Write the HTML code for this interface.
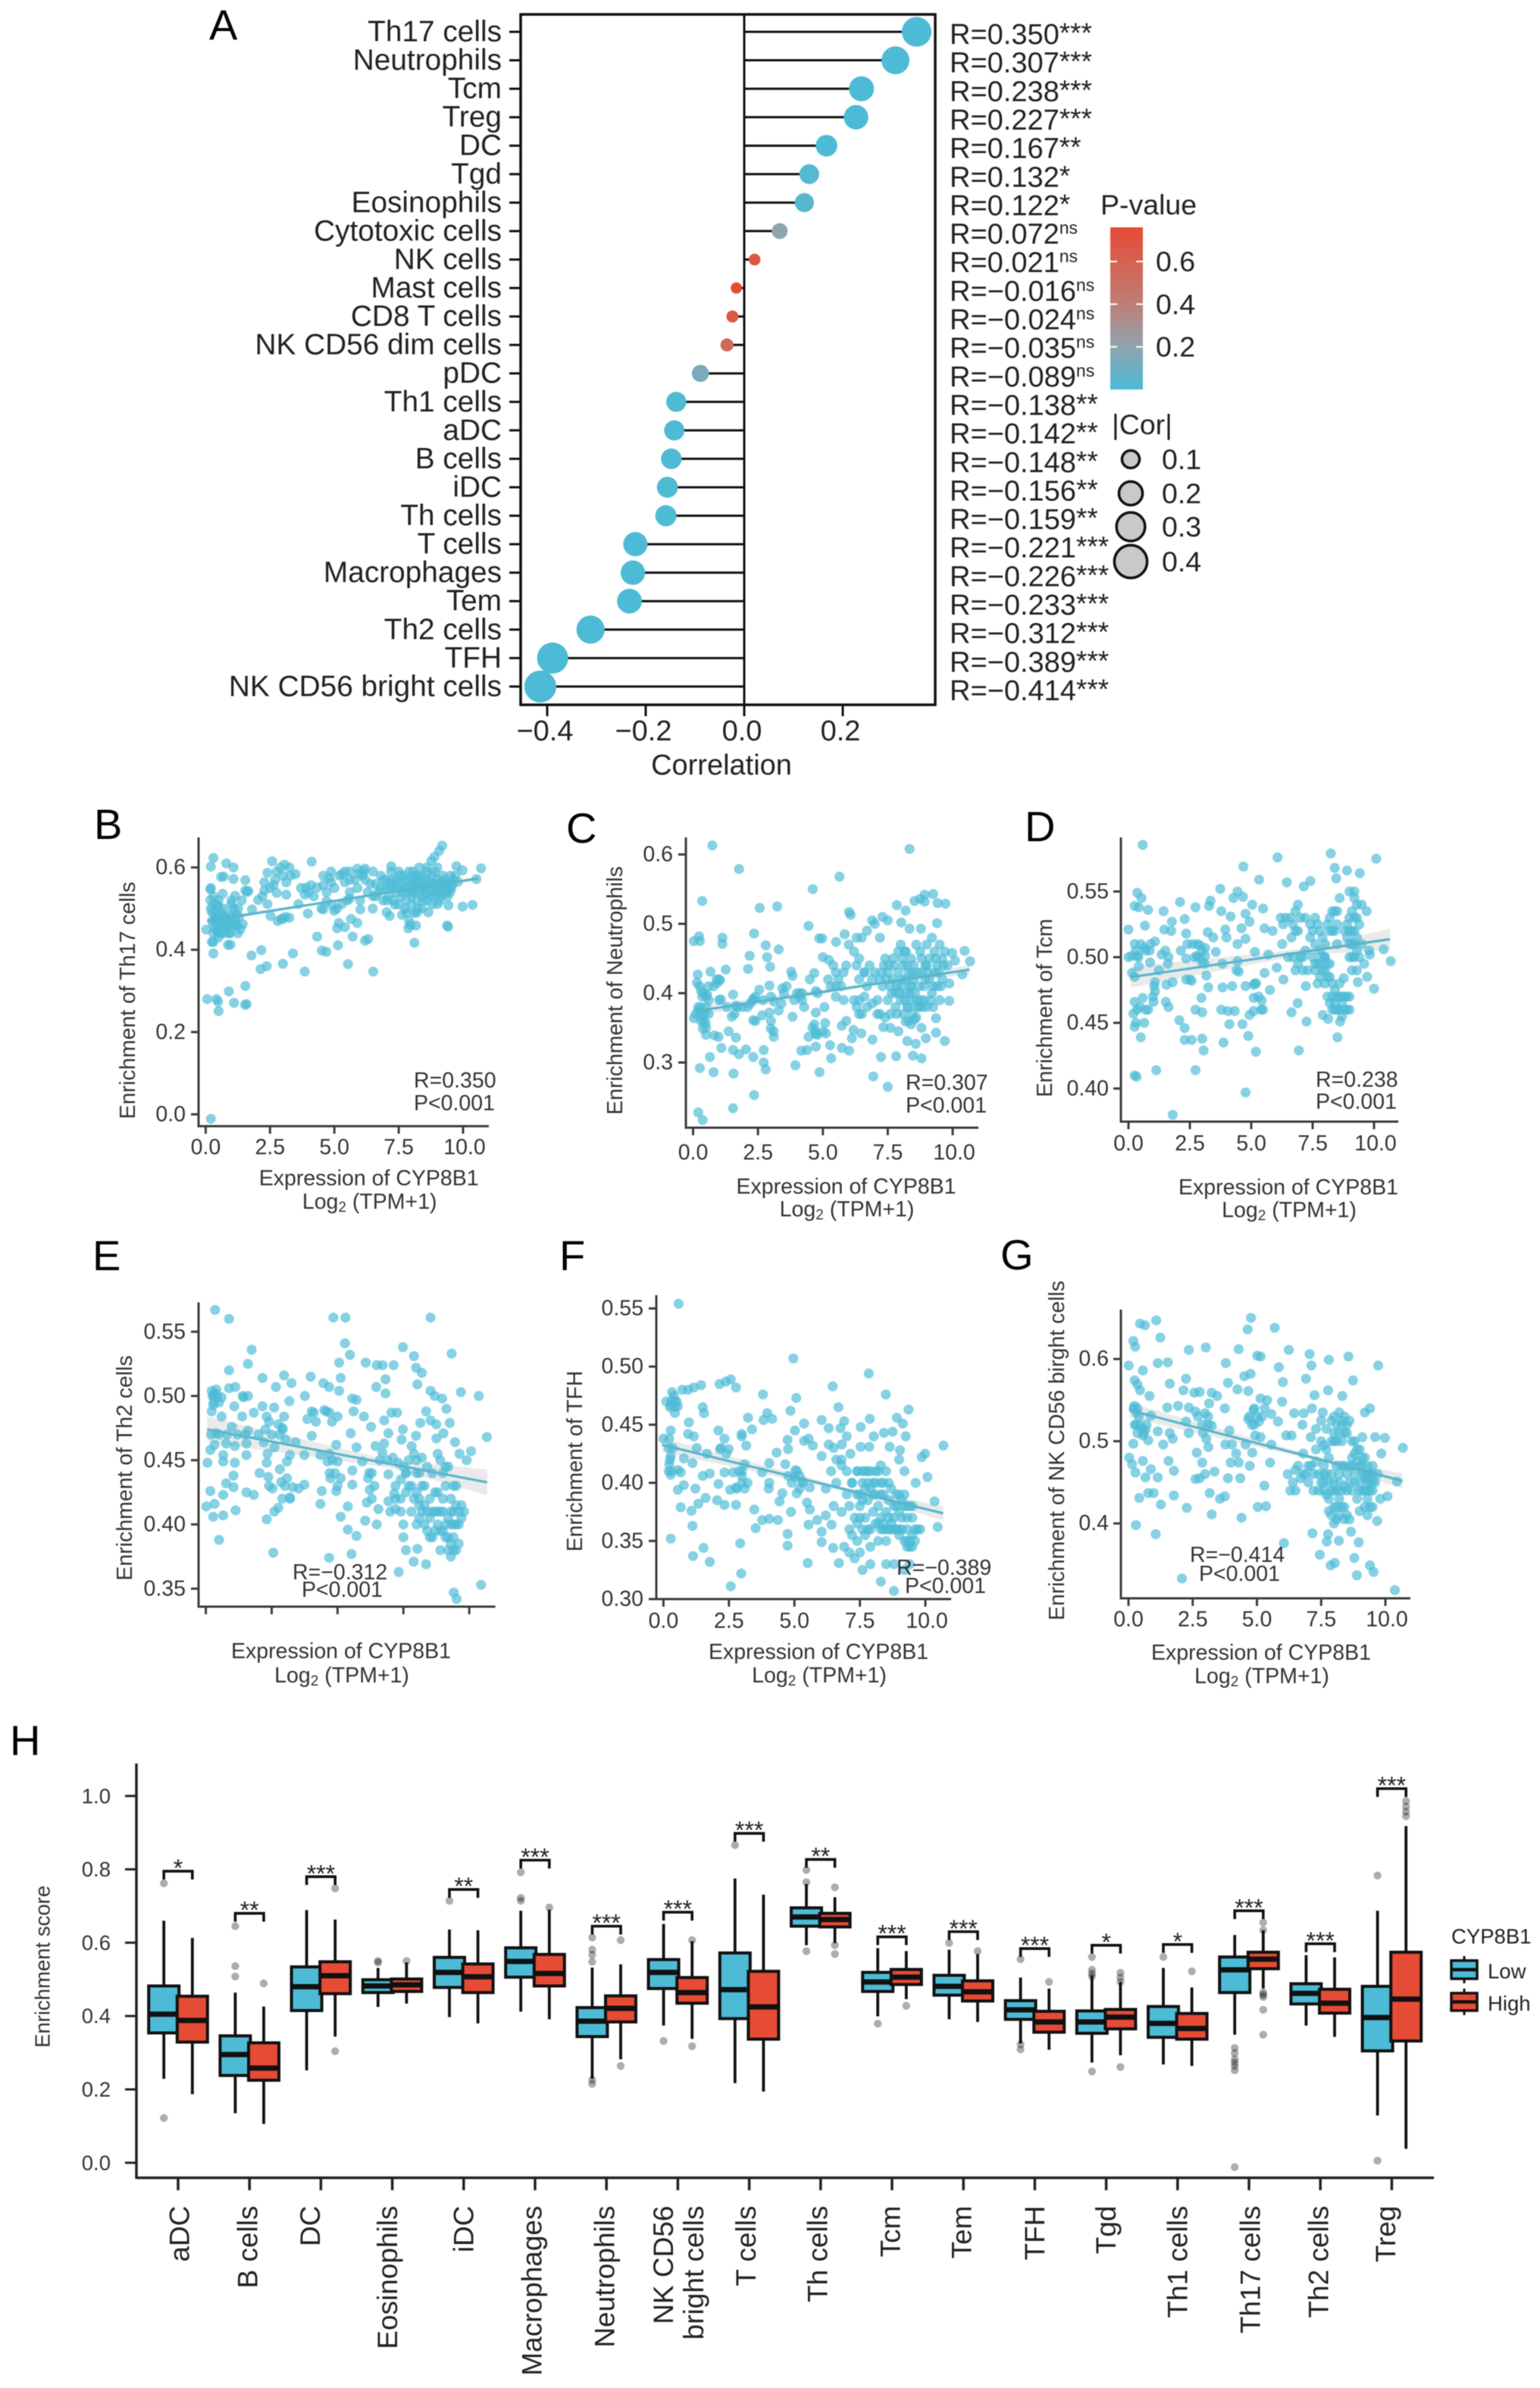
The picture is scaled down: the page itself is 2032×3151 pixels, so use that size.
<!DOCTYPE html>
<html lang="en">
<head>
<meta charset="utf-8">
<title>CYP8B1 immune infiltration correlation figure</title>
<style>
html,body{margin:0;padding:0;background:#fff;}
svg{display:block;font-family:"Liberation Sans",Arial,sans-serif;filter:blur(0.6px);}
</style>
</head>
<body>
<svg id="figure" xmlns="http://www.w3.org/2000/svg" width="2032" height="3151" viewBox="0 0 2032 3151">
<defs>
<linearGradient id="pgrad" x1="0" y1="1" x2="0" y2="0">
<stop offset="0" stop-color="#4DBBD5"/>
<stop offset="0.263" stop-color="#8FA3AE"/>
<stop offset="0.526" stop-color="#BD7F78"/>
<stop offset="1" stop-color="#E64B35"/>
</linearGradient>
</defs>
<rect x="0" y="0" width="2032" height="3151" fill="#fff"/>
<g id="panelA"></g>
<g id="panelB"></g>
<g id="panelC"></g>
<g id="panelD"></g>
<g id="panelE"></g>
<g id="panelF"></g>
<g id="panelG"></g>
<g id="panelH"></g>
</svg>
<script>
/* ---------- Panel A data ---------- */
const lolliCells=["Th17 cells","Neutrophils","Tcm","Treg","DC","Tgd","Eosinophils","Cytotoxic cells","NK cells","Mast cells","CD8 T cells","NK CD56 dim cells","pDC","Th1 cells","aDC","B cells","iDC","Th cells","T cells","Macrophages","Tem","Th2 cells","TFH","NK CD56 bright cells"];
const lolliCor=[0.350,0.307,0.238,0.227,0.167,0.132,0.122,0.072,0.021,-0.016,-0.024,-0.035,-0.089,-0.138,-0.142,-0.148,-0.156,-0.159,-0.221,-0.226,-0.233,-0.312,-0.389,-0.414];
const lolliP=[0,0,0,0,0.003,0.02,0.03,0.2,0.7,0.76,0.68,0.55,0.14,0.008,0.007,0.005,0.003,0.003,0,0,0,0,0,0];
const lolliSig=["***","***","***","***","**","*","*","ns","ns","ns","ns","ns","ns","**","**","**","**","**","***","***","***","***","***","***"];
const lolliXTicks=[-0.4,-0.2,0,0.2];
const pLegendTicks=[0.6,0.4,0.2];
const corLegendTicks=[0.1,0.2,0.3,0.4];

/* ---------- Scatter data, [expression, enrichment] ---------- */
const pointsB=[[.3,.623],[.2,.602],[.8,.61],[1.08,.6],[.6,.577],[.7,.578],[1.08,.572],[1.54,.569],[.18,.547],[.66,.536],[1.14,.531],[1.54,.544],[1.66,.543],[.18,.521],[.3,.511],[.48,.505],[.6,.491],[.24,.491],[.42,.478],[.66,.482],[.96,.485],[1.26,.501],[1.2,.485],[.96,.465],[.6,.452],[.48,.442],[.84,.452],[1.14,.459],[1.44,.462],[.02,.449],[.3,.419],[.24,.419],[.87,.412],[.96,.412],[.3,.391],[1.78,.386],[2.16,.399],[2.13,.353],[2.37,.36],[3,.366],[3.39,.391],[3.85,.347],[1.54,.312],[.9,.299],[.06,.28],[.42,.28],[.48,.274],[.5,.251],[1.1,.271],[1.53,.266],[1.59,.268],[.2,-.011],[2.58,.615],[3.06,.607],[3.25,.6],[4.12,.614],[2.4,.587],[2.76,.59],[3.49,.584],[2.28,.564],[2.64,.557],[3.13,.564],[2.28,.544],[2.76,.538],[3.13,.534],[2.04,.521],[1.8,.498],[2.4,.511],[2.52,.482],[2.94,.475],[3.25,.478],[3.6,.511],[3.9,.551],[4.09,.557],[4.33,.551],[3.85,.534],[3.97,.488],[4.57,.58],[4.87,.59],[5.29,.584],[5.59,.59],[5.89,.597],[6.19,.597],[4.57,.557],[4.87,.564],[5.41,.564],[4.69,.518],[4.57,.498],[4.99,.495],[5.29,.511],[5.59,.524],[6.01,.498],[6.49,.5],[5.17,.465],[5.41,.455],[5.65,.475],[5.89,.465],[5.11,.452],[4.33,.432],[5.71,.432],[6.19,.422],[6.31,.426],[5.14,.411],[4.51,.398],[4.69,.395],[5.53,.365],[6.51,.347],[7.21,.603],[9.19,.653],[9.07,.64],[8.89,.626],[8.77,.616],[9.74,.603],[9.98,.593],[10.7,.598],[10.52,.572],[9.98,.505],[10.37,.509],[9.38,.459],[9.42,.456],[8.11,.417],[7.87,.452],[8.17,.459],[7.63,.485],[7.15,.482],[7.03,.491],[8.65,.491],[9.43,.508],[9.01,.511],[6.6,.56],[6.7,.54],[6.8,.58],[6.9,.52],[7,.55],[7,.57],[7.1,.53],[7.2,.56],[7.2,.59],[7.3,.52],[7.3,.55],[7.4,.57],[7.4,.54],[7.5,.59],[7.5,.51],[7.6,.56],[7.6,.53],[7.7,.58],[7.7,.55],[7.8,.52],[7.8,.57],[7.9,.54],[7.9,.59],[8,.56],[8,.51],[8,.53],[8.1,.58],[8.1,.55],[8.1,.49],[8.2,.57],[8.2,.52],[8.3,.54],[8.3,.6],[8.3,.56],[8.4,.58],[8.4,.53],[8.4,.5],[8.5,.55],[8.5,.57],[8.6,.52],[8.6,.59],[8.7,.54],[8.7,.56],[8.8,.58],[8.8,.51],[8.9,.55],[8.9,.53],[9,.57],[9,.6],[9,.54],[9.1,.52],[9.1,.56],[9.2,.58],[9.2,.54],[9.3,.55],[9.3,.57],[9.4,.53],[9.4,.56],[9.5,.58],[9.5,.54],[9.6,.56],[9.6,.57],[9.7,.58],[9.8,.565],[6.2,.57],[6.3,.54],[6.4,.56],[6.5,.53],[6.5,.59],[5.9,.55],[6,.52],[6.1,.58],[5.6,.54],[5.8,.57],[5.5,.52],[.2,.5],[.3,.53],[.4,.49],[.5,.52],[.6,.47],[.7,.5],[.8,.47],[.9,.44],[1,.48],[1.1,.5],[1.2,.46],[1.3,.48],[.3,.46],[.5,.46],[.7,.44],[.4,.47],[.2,.55],[1,.52],[1.4,.52],[1.6,.54],[6.6,.53],[6.8,.55],[6.9,.57],[7.05,.52],[7.15,.55],[7.25,.57],[7.35,.51],[7.45,.56],[7.55,.58],[7.65,.54],[7.75,.5],[7.85,.55],[7.95,.57],[8.05,.54],[8.05,.59],[8.15,.56],[8.25,.5],[8.25,.58],[8.35,.55],[8.45,.56],[8.45,.52],[8.55,.54],[8.65,.57],[8.75,.53],[8.85,.56],[8.95,.54],[9.05,.56],[9.15,.55],[9.15,.53],[9.25,.56],[9.35,.54],[9.45,.55],[9.55,.55],[8.9,.59],[8.6,.6],[7.8,.49],[8.2,.49],[7.9,.47],[7.95,.46],[5.2,.58],[5,.55],[4.8,.575],[5.4,.59],[5.6,.57],[5.95,.585],[6.15,.59],[4.7,.54],[4.5,.5],[4.9,.51],[5.1,.5],[4,.54],[4.2,.53],[3.7,.55],[3.3,.58],[2.9,.6],[2.7,.57],[3,.58],[2.5,.55],[2.2,.53],[3.1,.48],[3,.475],[2.8,.47],[.35,.48],[.45,.51],[.55,.44],[.65,.46],[.75,.48],[.85,.46],[.95,.44],[1.05,.46],[1.15,.47],[1.25,.44],[1.35,.45],[.3,.44],[.4,.45],[.5,.43],[1,.51],[.25,.47]];
const pointsC=[[.74,.613],[1.77,.579],[8.34,.608],[5.64,.568],[4.61,.55],[.35,.533],[2.57,.523],[3.24,.525],[4.45,.497],[2.35,.486],[.23,.482],[.03,.475],[.26,.475],[1.13,.48],[1.13,.471],[2.8,.469],[3.3,.463],[2.18,.454],[2.85,.452],[2.12,.435],[2.97,.438],[1.26,.434],[.67,.431],[.18,.427],[1.04,.419],[.93,.415],[.15,.415],[.31,.403],[.54,.398],[1.07,.391],[1.54,.398],[.2,.38],[.03,.364],[.31,.368],[.48,.357],[.37,.349],[.82,.339],[.98,.337],[1.37,.345],[1.65,.336],[1.49,.366],[1.65,.382],[2.1,.38],[2.32,.361],[2.32,.392],[2.55,.405],[2.94,.411],[3.44,.407],[3.11,.388],[2.94,.372],[2.66,.368],[2.99,.349],[3.11,.337],[3.83,.366],[3.78,.431],[3.83,.425],[4.11,.4],[4.28,.38],[4.73,.372],[4.73,.403],[5.06,.38],[4.67,.429],[5,.452],[5.23,.448],[4.86,.479],[4.97,.479],[5.51,.474],[5.84,.485],[6.01,.517],[6.07,.513],[.26,.292],[.79,.286],[1.56,.284],[.65,.308],[1.09,.321],[1.54,.318],[1.77,.312],[2.04,.319],[2.32,.308],[2.72,.318],[2.72,.3],[2.8,.29],[3.94,.296],[4.87,.286],[5.32,.306],[5.28,.325],[4.17,.317],[4.39,.318],[4.73,.323],[4.45,.337],[4.73,.341],[5.12,.342],[4.67,.355],[5.09,.357],[5.73,.321],[6.01,.317],[5.73,.353],[6.18,.347],[6.48,.342],[6.12,.335],[6.91,.333],[7.33,.351],[7.24,.308],[7.82,.309],[6.94,.28],[7.5,.265],[8.47,.31],[8.8,.306],[2.35,.253],[1.54,.234],[.2,.228],[.37,.217],[9.7,.331],[9.36,.343],[8.97,.335],[8.58,.327],[8.25,.331],[8.53,.362],[8.19,.359],[7.91,.345],[9.36,.364],[9.87,.389],[9.87,.414],[10.37,.427],[10.67,.446],[10.46,.461],[10.09,.447],[9.98,.458],[9.4,.501],[9.72,.529],[9.42,.53],[9.25,.543],[8.92,.542],[8.75,.536],[8.53,.533],[8.92,.532],[8.19,.519],[7.85,.527],[8.78,.493],[8.34,.493],[8.02,.502],[6,.47],[6.2,.46],[6.3,.44],[6.4,.45],[6.5,.48],[6.6,.43],[6.7,.41],[6.8,.44],[6.9,.42],[7,.43],[7.1,.39],[7.2,.42],[7.3,.41],[7.4,.45],[7.5,.43],[7.5,.39],[7.6,.41],[7.6,.37],[7.7,.45],[7.7,.42],[7.8,.4],[7.8,.38],[7.9,.46],[7.9,.43],[8,.41],[8,.39],[8,.47],[8.1,.44],[8.1,.37],[8.2,.42],[8.2,.4],[8.2,.46],[8.3,.43],[8.3,.38],[8.4,.41],[8.4,.45],[8.4,.39],[8.5,.42],[8.5,.44],[8.6,.39],[8.6,.47],[8.7,.41],[8.7,.38],[8.8,.43],[8.8,.45],[8.9,.39],[8.9,.41],[9,.44],[9,.47],[9,.38],[9.1,.42],[9.1,.45],[9.2,.4],[9.2,.48],[9.3,.43],[9.3,.46],[9.4,.41],[9.4,.44],[9.5,.47],[9.5,.39],[9.6,.42],[9.6,.45],[9.7,.46],[9.8,.44],[6.3,.38],[6.4,.39],[6.5,.37],[6.7,.38],[6.9,.385],[7.1,.37],[7.2,.48],[7,.5],[7.3,.51],[7.5,.505],[6.7,.49],[6.9,.505],[6.3,.48],[5.9,.44],[5.5,.43],[5.4,.44],[5.6,.42],[5.3,.41],[5.7,.41],[5.2,.42],[5.5,.395],[.4,.4],[.5,.395],[.3,.38],[.2,.375],[.1,.37],[.5,.38],[.6,.37],[.4,.36],[1.7,.38],[1.9,.38],[2.3,.39],[2.4,.395],[3.4,.385],[3.5,.4],[4,.4],[4.1,.395],[4.2,.39],[3.9,.39],[3.3,.375],[1.6,.37],[4.7,.345],[5,.345],[4.8,.34],[4.6,.35],[7.25,.43],[7.35,.44],[7.45,.42],[7.55,.44],[7.65,.4],[7.75,.44],[7.85,.41],[7.85,.37],[7.95,.4],[8.05,.45],[8.05,.42],[8.15,.39],[8.15,.46],[8.25,.44],[8.25,.38],[8.35,.41],[8.35,.4],[8.45,.43],[8.45,.37],[8.55,.4],[8.65,.38],[8.65,.43],[8.75,.39],[8.75,.46],[8.85,.38],[8.95,.42],[8.95,.44],[9.05,.43],[9.15,.39],[9.25,.41],[9.25,.38],[9.35,.45],[9.45,.43],[9.55,.41],[9.65,.44],[8.8,.35],[8.4,.355],[8.3,.36],[8.6,.365],[7.6,.35],[7.4,.365],[7.2,.37],[6.6,.395],[6.4,.37],[6.2,.39],[6.6,.43],[6.4,.42],[5.8,.43],[5.5,.41],[5.8,.39],[5.9,.36],[4.8,.4],[4.5,.42],[4.2,.4],[3.6,.41],[3,.395],[2.7,.39],[2.2,.385],[2.4,.36],[1.3,.38],[1,.39],[.8,.41],[.6,.41],[.3,.36],[.5,.35],[.25,.41],[.45,.37],[.6,.39],[.35,.395],[1,.42],[.9,.42],[.5,.34],[3,.36],[3.1,.345]];
const pointsD=[[.58,.5855],[4.68,.569],[6.07,.576],[8.24,.579],[10.09,.575],[8.4,.568],[8.9,.566],[9.42,.564],[8.46,.56],[5.32,.559],[6.45,.557],[7.41,.558],[7.14,.554],[3.74,.552],[.36,.549],[.53,.545],[4.44,.55],[4.66,.546],[4.27,.545],[3.34,.543],[3.28,.539],[2.1,.542],[.25,.539],[.42,.538],[.8,.536],[1.43,.535],[2.73,.538],[3.78,.535],[5.04,.54],[5.48,.537],[4.16,.531],[2.29,.529],[1.77,.527],[.67,.524],[1.46,.521],[1.74,.52],[0,.521],[2.35,.518],[3.23,.519],[3.94,.521],[3.99,.515],[3.45,.515],[4.6,.522],[4.93,.527],[4.77,.533],[4.77,.514],[4.44,.51],[.25,.51],[.14,.501],[0,.5],[.36,.501],[.64,.507],[.86,.505],[1.08,.512],[1.35,.502],[1.63,.5],[.88,.496],[.42,.493],[.14,.488],[.25,.485],[1.24,.49],[2.13,.505],[2.35,.499],[2.62,.51],[2.9,.509],[3.12,.507],[3.56,.504],[2.79,.501],[3,.496],[3.12,.501],[3.83,.495],[4.44,.497],[4.49,.489],[5.15,.504],[5.7,.502],[5.54,.522],[5.87,.52],[6.26,.51],[6.64,.515],[6.04,.492],[6.31,.483],[5.54,.488],[1.08,.481],[1.08,.474],[1.02,.466],[.8,.46],[.58,.469],[.25,.466],[.47,.462],[.2,.457],[.25,.447],[.64,.45],[.5,.439],[1.55,.479],[1.8,.481],[1.52,.466],[1.63,.462],[2.07,.452],[2.29,.446],[2.29,.437],[2.57,.437],[3,.438],[3.06,.429],[3.87,.435],[4.11,.449],[4.64,.449],[4.88,.44],[5.19,.428],[2.35,.483],[2.57,.482],[3.17,.486],[3.25,.477],[2.73,.46],[3,.458],[2.97,.469],[3.78,.46],[4.05,.459],[4.33,.459],[3.83,.477],[4.22,.478],[4.77,.478],[5.15,.48],[5.1,.469],[5.43,.467],[5.1,.459],[5.48,.46],[4.93,.456],[5.76,.475],[6.64,.458],[6.89,.465],[7.25,.451],[6.94,.429],[7.22,.478],[1.13,.414],[.25,.41],[.33,.409],[2.73,.414],[4.77,.397],[1.8,.38],[8.51,.439],[8.62,.451],[7.91,.456],[8.13,.453],[10,.476],[9.72,.485],[9.34,.481],[8.77,.484],[10.68,.497],[10.39,.506],[9.83,.502],[6.6,.53],[6.7,.525],[6.8,.535],[6.9,.52],[7,.53],[6.7,.5],[6.9,.495],[7,.5],[7.2,.505],[7.3,.49],[7.4,.515],[7.5,.5],[7.5,.52],[7.6,.49],[7.6,.51],[7.7,.495],[7.7,.525],[7.8,.505],[7.8,.485],[7.9,.5],[7.9,.515],[8,.49],[8,.48],[8,.5],[8.1,.525],[8.1,.485],[8.1,.47],[8.2,.53],[8.2,.495],[8.2,.465],[8.3,.52],[8.3,.48],[8.3,.46],[8.4,.535],[8.4,.475],[8.4,.465],[8.5,.525],[8.5,.51],[8.5,.47],[8.6,.545],[8.6,.46],[8.7,.47],[8.7,.465],[8.8,.52],[8.8,.46],[8.9,.515],[8.9,.47],[9,.53],[9,.5],[9,.46],[9.1,.52],[9.1,.51],[9.1,.49],[9.2,.53],[9.2,.5],[9.2,.545],[9.3,.54],[9.3,.515],[9.3,.505],[9.4,.525],[9.4,.5],[9.5,.54],[9.5,.51],[9.6,.495],[9.7,.535],[9.8,.505],[9.2,.55],[9,.55],[7.2,.53],[7.4,.525],[7.6,.53],[7.8,.52],[8,.51],[8.2,.52],[8.3,.535],[8.4,.52],[8.5,.535],[7.6,.495],[7.7,.48],[7.8,.495],[7.9,.49],[8,.5],[8.1,.495],[8.2,.485],[8.3,.47],[8.4,.46],[8.5,.46],[8.6,.47],[8.7,.455],[8.8,.47],[8.9,.46],[9,.47],[8.6,.48],[8.9,.525],[9,.52],[9.1,.535],[9.2,.52],[9.3,.53],[9.2,.51],[9.1,.5],[9,.51],[9.3,.49],[6.4,.53],[6.3,.525],[6.2,.53],[6.8,.52],[6.9,.54],[7.1,.5],[6.5,.5],[6.8,.49],[7.1,.49],[.3,.505],[.5,.51],[.7,.505],[.4,.5],[.9,.51],[1.5,.505],[1.6,.495],[2.4,.51],[2.7,.5],[2.9,.5],[3,.505],[2.8,.51],[3.1,.495],[4.4,.49],[5.2,.48],[5.3,.47],[5.4,.46],[1,.47],[1.05,.478],[.7,.46],[.3,.45],[.35,.46],[2.5,.483],[5.1,.479]];
const pointsE=[[.35,.567],[.88,.56],[4.84,.561],[5.3,.561],[8.53,.561],[5.28,.541],[5.47,.532],[7.48,.538],[9.33,.533],[1.74,.536],[1.6,.525],[.88,.52],[2.15,.514],[2.97,.516],[3.25,.51],[2.66,.507],[.88,.506],[1.12,.507],[3.98,.515],[4.46,.51],[4.68,.507],[5.06,.526],[5.12,.514],[5.06,.504],[6.07,.526],[6.49,.524],[6.71,.524],[7.13,.524],[6.82,.513],[6.47,.507],[6.82,.502],[5.56,.498],[5.72,.497],[3.76,.5],[3.17,.496],[1.43,.499],[7.9,.531],[7.98,.522],[8.2,.518],[8.03,.509],[8.53,.504],[8.69,.5],[8.97,.498],[9.68,.503],[10.36,.5],[9.13,.49],[10.67,.468],[10.07,.457],[9.63,.455],[9.9,.45],[9.46,.464],[9.26,.479],[.22,.504],[.33,.502],[.44,.5],[.6,.499],[.28,.493],[.22,.488],[.6,.484],[1.08,.492],[1.38,.484],[1.82,.487],[2.15,.492],[2.31,.484],[2.59,.491],[2.97,.484],[2.75,.478],[2.92,.474],[.99,.476],[1.6,.473],[2.26,.474],[.39,.471],[.77,.463],[.33,.462],[1.1,.461],[1.54,.463],[2.2,.464],[3.03,.466],[3.41,.464],[4.02,.469],[.06,.448],[.17,.458],[.66,.454],[.66,.449],[1.1,.448],[1.54,.454],[2.34,.455],[2.31,.448],[3.19,.454],[3.08,.449],[3.74,.454],[4.35,.454],[2.81,.443],[2.04,.44],[2.37,.437],[1.05,.438],[.77,.432],[.17,.426],[1.05,.429],[.66,.423],[1.54,.425],[1.82,.423],[2.53,.428],[2.86,.433],[3.08,.436],[3.3,.429],[3.52,.428],[3.74,.431],[3.19,.421],[2.75,.413],[.02,.414],[.33,.416],[1.13,.411],[.28,.406],[.66,.407],[2.31,.404],[.5,.388],[2.56,.378],[4.68,.374],[5.53,.377],[7.32,.363],[7.89,.371],[8.36,.369],[8.03,.381],[10.45,.353],[9.41,.347],[9.52,.342],[4.02,.488],[4.57,.488],[3.85,.482],[4.18,.48],[4.79,.48],[5,.484],[5.61,.488],[6,.484],[5.5,.471],[6.27,.476],[6.93,.471],[6.77,.481],[7.04,.487],[7.26,.487],[7.48,.474],[7.43,.466],[7.98,.469],[7.81,.461],[8.14,.479],[8.36,.488],[8.53,.481],[8.75,.478],[9.02,.471],[8.75,.467],[4.95,.462],[5.72,.46],[6.44,.461],[6.77,.463],[4.62,.449],[5,.449],[4.73,.436],[5.12,.436],[4.4,.426],[4.95,.426],[4.35,.416],[5.39,.414],[5.12,.406],[5.39,.396],[5.72,.391],[6.05,.403],[6.49,.4],[5.56,.442],[5.56,.431],[5.94,.449],[6.16,.436],[6.22,.427],[6.11,.417],[6.55,.412],[6.93,.418],[7.15,.424],[6.93,.439],[6.7,.456],[6.9,.45],[7.1,.452],[7.3,.448],[7.5,.445],[7.2,.43],[7.4,.435],[7.6,.44],[7,.41],[7.2,.412],[7.4,.42],[7.6,.425],[7.8,.43],[8,.45],[8,.425],[8.1,.44],[8.2,.452],[8.2,.41],[8.3,.4],[8.3,.43],[8.4,.445],[8.4,.395],[8.5,.42],[8.5,.405],[8.6,.44],[8.6,.39],[8.7,.41],[8.8,.455],[8.8,.425],[8.8,.4],[8.9,.38],[8.9,.395],[9,.44],[9,.42],[9,.41],[9.1,.39],[9.1,.43],[9.2,.405],[9.2,.445],[9.3,.385],[9.3,.42],[9.3,.4],[9.4,.41],[9.4,.39],[9.5,.38],[9.5,.415],[9.6,.4],[9.7,.415],[9.8,.41],[9.6,.385],[7.5,.39],[7.5,.4],[7.6,.38],[8,.4],[8.1,.415],[9.4,.43],[7.2,.42],[7.4,.41],[7.6,.44],[7.7,.43],[7.8,.41],[7.9,.42],[8.1,.42],[8.1,.405],[8.2,.43],[8.3,.415],[8.4,.41],[8.5,.39],[8.6,.41],[8.7,.395],[8.7,.425],[8.8,.41],[8.9,.41],[9,.395],[9.1,.4],[9.2,.39],[9.3,.41],[9.4,.4],[9.5,.4],[9.5,.43],[9.6,.41],[9.7,.405],[9.2,.38],[9.3,.375],[9.4,.38],[8.9,.45],[9.1,.445],[8,.44],[7.7,.45],[7.9,.455],[6.4,.43],[6.3,.42],[6.2,.44],[6.3,.44],[6.6,.45],[4.7,.44],[4.8,.45],[4.9,.44],[5,.43],[4.7,.455],[.3,.5],[.4,.505],[.25,.5],[.5,.495],[.3,.495],[.2,.47],[.5,.47],[.8,.47],[1.2,.47],[1.5,.47],[2,.47],[2.5,.47],[2.8,.47],[2.9,.475],[2.4,.48],[2.6,.46],[3.2,.42],[2.9,.42],[3,.43],[4.1,.487],[4.5,.489],[4.7,.487],[1.4,.5],[1.6,.5],[2.4,.43],[2.6,.41]];
const pointsF=[[.58,.554],[4.96,.507],[7.84,.494],[6.46,.483],[8.49,.476],[3.8,.476],[5.07,.473],[6.68,.465],[9.36,.463],[4.85,.462],[.33,.478],[.72,.48],[.94,.48],[1.16,.482],[1.44,.484],[2.14,.485],[2.38,.487],[2.57,.489],[2.77,.482],[.11,.47],[.28,.467],[.44,.47],[.55,.466],[.44,.46],[1.5,.465],[1.55,.46],[.97,.452],[.94,.442],[1.16,.44],[.28,.445],[0,.438],[.22,.438],[2.1,.445],[2.33,.438],[2.99,.442],[2.99,.44],[3.16,.432],[3.23,.456],[3.38,.446],[3.96,.46],[3.82,.454],[4.15,.455],[2.16,.429],[2.49,.429],[1.27,.43],[1.66,.425],[4.32,.426],[4.04,.417],[4.65,.416],[3.1,.416],[.28,.423],[.22,.416],[.28,.407],[.55,.411],[.78,.421],[1.11,.417],[.66,.409],[1.5,.406],[1.77,.408],[2.33,.409],[2.66,.409],[2.1,.399],[2.99,.406],[3.21,.4],[3.77,.409],[4.04,.4],[4.02,.395],[.55,.394],[.78,.398],[1.22,.395],[2.55,.394],[2.77,.396],[.66,.379],[1.07,.376],[1.33,.382],[1.61,.387],[2.05,.385],[2.33,.381],[2.77,.381],[3.47,.377],[1.11,.363],[.28,.352],[1.53,.344],[1.13,.337],[1.77,.332],[2.93,.348],[2.97,.322],[2.57,.311],[3.52,.361],[3.77,.368],[4.04,.369],[4.37,.368],[4.74,.356],[4.74,.346],[4.87,.375],[5.51,.331],[6.7,.331],[4.54,.391],[4.43,.384],[4.76,.406],[5.04,.411],[5.2,.406],[5.32,.401],[5.09,.391],[5.59,.396],[5.48,.383],[5.59,.377],[5.54,.364],[5.87,.368],[6.2,.372],[6.04,.358],[6.04,.349],[6.48,.344],[6.42,.364],[4.74,.437],[4.76,.429],[5.37,.451],[5.02,.445],[5.37,.436],[5.54,.438],[5.7,.432],[6.04,.454],[6.31,.447],[6.9,.453],[6.76,.447],[6.31,.433],[6.81,.433],[6.04,.423],[7.14,.425],[7.53,.431],[7.86,.431],[7.53,.448],[7.88,.455],[8.03,.44],[8.42,.443],[8.75,.444],[8.91,.456],[9.14,.451],[9.25,.44],[8.64,.431],[9.03,.428],[9.86,.422],[9.99,.425],[10.69,.432],[10.08,.405],[9.63,.4],[10.35,.384],[10.47,.362],[7,.39],[7.1,.38],[7.3,.37],[7.4,.365],[7.5,.38],[7.5,.39],[7.6,.41],[7.6,.4],[7.7,.395],[7.7,.37],[7.8,.41],[7.8,.385],[7.9,.36],[7.9,.345],[8,.4],[8,.375],[8.1,.41],[8.1,.39],[8.1,.365],[8.2,.38],[8.2,.35],[8.3,.4],[8.3,.415],[8.3,.36],[8.4,.39],[8.4,.365],[8.5,.35],[8.5,.375],[8.6,.36],[8.6,.385],[8.7,.395],[8.7,.36],[8.8,.36],[8.8,.33],[8.9,.38],[9,.375],[9,.355],[9.1,.36],[9.2,.41],[9.2,.38],[9.3,.35],[9.3,.37],[9.4,.345],[9.4,.33],[9.5,.355],[9.5,.38],[9.6,.35],[9.7,.36],[9.8,.36],[7.1,.34],[7.3,.335],[7.5,.34],[7.6,.325],[7.9,.33],[8.3,.315],[8.8,.307],[6.9,.345],[7.2,.355],[7.4,.35],[9.2,.325],[8.5,.33],[6.4,.41],[6.6,.4],[6.8,.415],[7,.41],[7.2,.4],[7.4,.41],[6.2,.395],[6.5,.38],[6.8,.375],[7.1,.36],[7.2,.4],[7.4,.39],[7.6,.385],[7.7,.41],[7.8,.4],[7.9,.395],[7.9,.41],[8,.39],[8.1,.4],[8.2,.41],[8.3,.39],[8.4,.4],[8.5,.41],[8.6,.4],[7.5,.37],[7.6,.36],[7.7,.355],[7.8,.36],[8.2,.365],[8.3,.37],[8.4,.36],[8.5,.36],[8.6,.37],[8.7,.365],[8.8,.37],[8.9,.36],[9,.36],[9.1,.37],[9.2,.35],[9.3,.36],[9.3,.345],[9.4,.35],[9.5,.345],[9.5,.37],[9.6,.36],[9.1,.385],[9.2,.39],[9.3,.38],[9.4,.38],[8.9,.39],[8.8,.38],[9,.42],[9,.39],[6.8,.42],[6.6,.42],[6.5,.43],[7,.44],[7.4,.41],[5,.405],[5.2,.395],[5.1,.41],[4.9,.4],[5.3,.4],[.2,.43],[.25,.42],[.3,.41],[.35,.43],[.2,.41],[.3,.47],[.4,.475],[.5,.47],[.45,.465],[.25,.465],[2.2,.43],[2.4,.425],[3,.41],[3.1,.395],[3,.4],[2.8,.395],[2.9,.41]];
const pointsG=[[4.77,.65],[4.64,.636],[5.69,.638],[.45,.643],[.64,.641],[1.08,.647],[1.24,.626],[.19,.622],[.26,.615],[2.35,.611],[3.01,.614],[4.29,.612],[6.24,.611],[7.05,.606],[7.8,.599],[8.56,.603],[9.72,.592],[7.12,.592],[5.85,.59],[5.01,.604],[5.14,.603],[.01,.592],[1.14,.595],[1.53,.596],[3.79,.595],[.56,.586],[6.01,.572],[6.91,.576],[8.74,.574],[4.75,.582],[4.51,.579],[3.87,.571],[4.24,.563],[4.66,.561],[7.77,.562],[7.24,.556],[8.32,.555],[5.98,.548],[.24,.574],[.35,.569],[.45,.562],[.82,.555],[1.61,.57],[2.24,.576],[2.14,.562],[2.56,.559],[2.77,.56],[3.24,.559],[3.45,.555],[3.14,.546],[3.75,.54],[.24,.543],[.35,.54],[.87,.531],[1.51,.541],[1.93,.543],[2.35,.541],[2.61,.536],[2.98,.534],[.24,.52],[.45,.52],[.66,.514],[.56,.507],[.77,.501],[.19,.497],[1.14,.512],[1.35,.496],[1.61,.51],[1.72,.503],[2.24,.524],[2.35,.51],[2.87,.52],[3.24,.519],[3.03,.503],[3.11,.493],[3.93,.513],[3.77,.496],[4.03,.496],[4.19,.485],[4.56,.496],[4.82,.486],[4.93,.507],[5.14,.505],[5.56,.496],[2.66,.486],[2.87,.474],[1.56,.476],[1.77,.464],[.56,.476],[.03,.48],[.14,.472],[.27,.462],[.87,.466],[1.14,.456],[.66,.456],[2.61,.454],[2.77,.455],[2.98,.46],[3.35,.463],[3.87,.455],[3.98,.474],[4.29,.474],[4.72,.47],[4.35,.455],[5.51,.474],[5.29,.446],[.42,.431],[.77,.437],[.98,.437],[1.26,.423],[1.77,.434],[2.27,.419],[3.16,.437],[3.56,.43],[3.75,.433],[3.24,.411],[4.4,.407],[5.03,.42],[5.35,.421],[.29,.398],[1.06,.387],[2.08,.333],[6.05,.376],[7.16,.388],[7.77,.387],[7.72,.378],[8.19,.379],[8.66,.39],[8.96,.377],[7.45,.362],[7.87,.349],[8.03,.352],[8.79,.358],[8.89,.337],[9.4,.349],[9.54,.341],[10.37,.319],[10.68,.492],[9.98,.504],[9.84,.485],[10.45,.451],[10.08,.433],[9.68,.403],[5.14,.552],[5.4,.55],[4.87,.538],[4.66,.527],[5.08,.524],[5.56,.533],[5.82,.524],[6.35,.507],[6.14,.507],[6.45,.534],[6.82,.534],[6.77,.52],[7.14,.54],[7.56,.535],[6.2,.46],[6.4,.45],[6.5,.44],[6.6,.47],[6.7,.455],[6.8,.485],[6.9,.46],[7,.45],[7.1,.47],[7.1,.505],[7.2,.44],[7.3,.475],[7.3,.49],[7.3,.515],[7.4,.44],[7.4,.46],[7.5,.5],[7.5,.525],[7.6,.45],[7.6,.47],[7.6,.495],[7.7,.435],[7.7,.515],[7.8,.45],[7.8,.415],[7.8,.48],[7.9,.525],[7.9,.46],[7.9,.41],[8,.44],[8,.53],[8,.5],[8.1,.47],[8.1,.42],[8.1,.405],[8.2,.535],[8.2,.45],[8.2,.43],[8.3,.525],[8.3,.47],[8.3,.5],[8.4,.53],[8.4,.445],[8.4,.405],[8.5,.51],[8.5,.46],[8.6,.525],[8.6,.47],[8.6,.405],[8.7,.44],[8.7,.5],[8.8,.46],[8.8,.485],[8.9,.475],[8.9,.43],[9,.49],[9,.45],[9.1,.505],[9.1,.46],[9.1,.47],[9.2,.44],[9.2,.48],[9.2,.535],[9.3,.45],[9.3,.47],[9.3,.43],[9.4,.46],[9.4,.42],[9.4,.54],[9.5,.44],[9.5,.47],[9.6,.45],[9.6,.505],[9.7,.46],[9,.415],[9.8,.43],[9.5,.42],[8,.45],[8.1,.44],[8.2,.46],[8.3,.44],[8.3,.42],[8.4,.47],[8.5,.44],[8.5,.52],[8.6,.45],[8.7,.47],[8.8,.45],[8.9,.49],[9,.47],[9,.44],[9.1,.44],[9.1,.48],[9.2,.46],[9.2,.42],[9.3,.46],[9.3,.44],[9.4,.45],[9.4,.44],[9.5,.46],[9.5,.45],[9.3,.41],[9.2,.455],[8.8,.5],[8.7,.48],[7.9,.5],[8,.51],[8.1,.52],[8.2,.51],[8.3,.52],[8.4,.51],[8.1,.5],[7.7,.49],[7.6,.44],[7.5,.45],[7.8,.43],[7.9,.44],[8,.42],[8.2,.41],[8,.4],[8.4,.42],[8.5,.41],[7.2,.46],[7,.47],[6.8,.46],[6.5,.465],[6.3,.44],[.3,.52],[.35,.51],[.5,.515],[.6,.51],[.7,.52],[.3,.535],[.2,.54],[.4,.53],[4.7,.53],[4.9,.52],[5,.53],[5.2,.53],[5.3,.54],[4.9,.54],[4.8,.52],[3.1,.52],[2.9,.51],[3.1,.53],[2.7,.53],[7.7,.46],[7.6,.46]];
const trendB=[[.06,.4703],[10.6,.5734]];
const trendC=[[.09,.374],[10.65,.434]];
const trendD=[[.09,.4848],[10.65,.5137]];
const trendE=[[.05,.474],[10.68,.4328]];
const trendF=[[-.05,.4327],[10.68,.3738]];
const trendG=[[.03,.5379],[10.67,.4517]];
const expressionTicks=[0,2.5,5,7.5,10];
const expressionTickLabels=["0.0","2.5","5.0","7.5","10.0"];
const yTicksB=[0,.2,.4,.6];
const yLabelsB=["0.0","0.2","0.4","0.6"];
const yTicksC=[.3,.4,.5,.6];
const yLabelsC=["0.3","0.4","0.5","0.6"];
const yTicksD=[.4,.45,.5,.55];
const yLabelsD=["0.40","0.45","0.50","0.55"];
const yTicksE=[.35,.4,.45,.5,.55];
const yLabelsE=["0.35","0.40","0.45","0.50","0.55"];
const yTicksF=[.3,.35,.4,.45,.5,.55];
const yLabelsF=["0.30","0.35","0.40","0.45","0.50","0.55"];
const yTicksG=[.4,.5,.6];
const yLabelsG=["0.4","0.5","0.6"];

/* ---------- Panel H data ---------- */
const boxCells=["aDC","B cells","DC","Eosinophils","iDC","Macrophages","Neutrophils","NK CD56|bright cells","T cells","Th cells","Tcm","Tem","TFH","Tgd","Th1 cells","Th17 cells","Th2 cells","Treg"];
const boxSig=["*","**","***","","**","***","***","***","***","**","***","***","***","*","*","***","***","***"];
const bracketTop=[.795,.68,.78,null,.745,.825,.645,.683,.898,.827,.616,.63,.584,.593,.595,.687,.597,1.02];
/* [lower whisker, q1, median, q3, upper whisker] */
const boxLow=[[.229,.354,.405,.482,.66],[.135,.238,.295,.346,.464],[.252,.415,.48,.534,.689],[.425,.464,.482,.499,.531],[.397,.478,.519,.56,.636],[.412,.506,.549,.586,.687],[.229,.344,.386,.423,.532],[.374,.475,.519,.554,.651],[.217,.393,.472,.572,.775],[.593,.645,.67,.695,.76],[.399,.467,.493,.519,.585],[.391,.457,.481,.511,.581],[.325,.391,.417,.442,.505],[.273,.353,.384,.414,.511],[.268,.342,.38,.426,.531],[.349,.464,.526,.561,.621],[.374,.433,.462,.488,.566],[.129,.305,.396,.481,.687]];
const boxHigh=[[.187,.329,.388,.454,.613],[.106,.225,.258,.327,.426],[.344,.461,.51,.548,.663],[.434,.467,.485,.501,.546],[.38,.464,.507,.542,.634],[.391,.482,.516,.568,.69],[.282,.384,.421,.455,.541],[.338,.435,.464,.505,.604],[.194,.337,.425,.522,.731],[.599,.643,.663,.68,.724],[.446,.486,.506,.527,.577],[.384,.441,.466,.496,.569],[.308,.356,.384,.413,.475],[.293,.365,.397,.418,.493],[.264,.337,.366,.407,.478],[.475,.529,.555,.574,.634],[.343,.408,.435,.473,.56],[.038,.332,.446,.574,.918]];
const outLow=[[.762,.122],[.645,.536,.508],[],[.546,.55],[.714],[.792,.722,.714],[.614,.581,.567,.548,.226,.215],[.332],[.866],[.798,.765,.577],[.379],[.599],[.555,.323,.309],[.561,.526,.516,.508,.249],[.561],[.313,.299,.282,.273,.264,.252,-.012],[],[.783,.006]];
const outHigh=[[],[.489],[.748,.304],[.55],[],[.696],[.607,.264],[.607,.318],[],[.751,.593,.569],[.428],[.577],[.493],[.518,.505,.493,.261],[.522],[.655,.634,.464,.458,.452,.417,.349],[],[.986,.971,.957,.945]];
const boxYTicks=[0,.2,.4,.6,.8,1];
const boxYLabels=["0.0","0.2","0.4","0.6","0.8","1.0"];

/* ---------- helpers ---------- */
const NS="http://www.w3.org/2000/svg";
function mk(parent,tag,attrs,name){
  const el=document.createElementNS(NS,tag);
  for(const k in attrs){el.setAttribute(k,attrs[k]);}
  
  
  parent.appendChild(el);
  return el;
}
function label(parent,x,y,str,size,opts,name){
  const o=opts||{};
  const a={x:x,y:y,'font-size':size,fill:o.fill||'#222','dominant-baseline':o.base||'central','text-anchor':o.anchor||'start'};
  if(o.rot){a.transform='rotate(-90 '+x+' '+y+')';}
  const el=mk(parent,'text',a,name);
  el.textContent=str;
  return el;
}
function panelLetter(parent,ch,x,y){
  const el=label(parent,x,y,ch,56,{base:'alphabetic',fill:'#000'},'panel-letter-'+ch.toLowerCase());
  return el;
}
function fmtMinus(s){return s.replace('-','\u2212');}
function mix(a,b,t){return a.map(function(v,i){return Math.round(v+(b[i]-v)*t);});}
function pColor(p){
  const cA=[77,187,213],cB=[143,163,174],cC=[189,127,120],cD=[230,75,53];
  let c;
  if(p<=0.2){c=mix(cA,cB,p/0.2);}
  else if(p<=0.4){c=mix(cB,cC,(p-0.2)/0.2);}
  else{c=mix(cC,cD,Math.min(1,(p-0.4)/0.36));}
  return 'rgb('+c.join(',')+')';
}

/* ---------- Panel A ---------- */
(function(){
  const g=document.getElementById('panelA');
  const xA=function(v){return 982+650*v;};
  const yA=function(i){return 42+37.56*i;};
  const rA=function(v){return Math.sqrt(40+980*Math.abs(v));};
  panelLetter(g,'A',276,52);
  mk(g,'rect',{x:687,y:19,width:547,height:911,fill:'none',stroke:'#111','stroke-width':3.5},'plot-frame');
  mk(g,'line',{x1:xA(0),x2:xA(0),y1:19,y2:930,stroke:'#111','stroke-width':3},'zero-line');
  lolliCells.forEach(function(c,i){
    const key=c.toLowerCase().replace(/ /g,'-');
    label(g,662,yA(i),c,38.8,{anchor:'end'},'row-label-'+key);
    mk(g,'line',{x1:672,x2:687,y1:yA(i),y2:yA(i),stroke:'#111','stroke-width':3},'row-tick');
    mk(g,'line',{x1:xA(0),x2:xA(lolliCor[i]),y1:yA(i),y2:yA(i),stroke:'#111','stroke-width':3},'stem-'+key);
    mk(g,'circle',{cx:xA(lolliCor[i]),cy:yA(i),r:rA(lolliCor[i]),fill:pColor(lolliP[i])},'dot-'+key);
    const ty=46+37.65*i;
    const t=label(g,1253,ty,'R='+fmtMinus(lolliCor[i].toFixed(3)),38,{},'r-value-'+key);
    const sig=lolliSig[i];
    const ts=document.createElementNS(NS,'tspan');
    
    
    if(sig==='ns'){ts.setAttribute('font-size','23');ts.setAttribute('dy','-9');}
    else{ts.setAttribute('font-size','37');ts.setAttribute('dy','-3');}
    ts.textContent=sig;
    t.appendChild(ts);
  });
  lolliXTicks.forEach(function(v){
    mk(g,'line',{x1:xA(v),x2:xA(v),y1:930,y2:945,stroke:'#111','stroke-width':3},'x-tick');
    label(g,xA(v)-3,965,fmtMinus(v.toFixed(1)),38,{anchor:'middle'},'x-tick-label');
  });
  label(g,952,1010,'Correlation',38,{anchor:'middle'},'x-axis-title');
  /* P-value legend */
  const yP=function(p){return 514-p*281.6;};
  label(g,1452,270,'P-value',37.5,{},'p-value-legend-title');
  mk(g,'rect',{x:1465,y:yP(.76),width:43,height:yP(0)-yP(.76),fill:'url(#pgrad)'},'p-value-colorbar');
  pLegendTicks.forEach(function(p){
    mk(g,'line',{x1:1465,x2:1474,y1:yP(p),y2:yP(p),stroke:'#fff','stroke-width':2},'colorbar-tick-left');
    mk(g,'line',{x1:1499,x2:1508,y1:yP(p),y2:yP(p),stroke:'#fff','stroke-width':2},'colorbar-tick-right');
    label(g,1525,yP(p),p.toFixed(1),37.5,{},'colorbar-tick-label');
  });
  /* |Cor| legend */
  label(g,1467,560,'|Cor|',37.5,{},'cor-legend-title');
  const corY=[606,651,695,741];
  corLegendTicks.forEach(function(v,i){
    mk(g,'circle',{cx:1492,cy:corY[i],r:Math.sqrt(40+1180*v)-1,fill:'#c9c9c9',stroke:'#111','stroke-width':3.5},'cor-legend-circle');
    label(g,1533,corY[i],v.toFixed(1),37.5,{},'cor-legend-label');
  });
})();

/* ---------- Scatter panels ---------- */
function drawScatter(c){
  const g=document.getElementById(c.id);
  const X=function(v){return c.x0+c.xs*v;};
  const Y=function(v){return c.y0-c.ys*(v-c.yRef);};
  panelLetter(g,c.letter,c.lx,c.ly);
  /* confidence band and points */
  const t=c.trend;
  const yT=function(x){return t[0][1]+(t[1][1]-t[0][1])*(x-t[0][0])/(t[1][0]-t[0][0]);};
  const xm=(t[0][0]+t[1][0])/2+1.6;
  const top=[[t[0][0],yT(t[0][0])+c.band],[xm,yT(xm)+c.band*.3],[t[1][0],yT(t[1][0])+c.band]];
  const bot=[[t[1][0],yT(t[1][0])-c.band],[xm,yT(xm)-c.band*.3],[t[0][0],yT(t[0][0])-c.band]];
  const poly=top.concat(bot).map(function(p){return X(p[0])+','+Y(p[1]);}).join(' ');
  mk(g,'polygon',{points:poly,fill:'#bdbdbd','fill-opacity':.32},'trend-confidence-band');
  const pts=mk(g,'g',{},'scatter-points');
  c.points.forEach(function(p){
    mk(pts,'circle',{cx:X(p[0]),cy:Y(p[1]),r:6.6,fill:'#4DBBD5','fill-opacity':.68},'scatter-point');
  });
  mk(g,'line',{x1:X(t[0][0]),y1:Y(t[0][1]),x2:X(t[1][0]),y2:Y(t[1][1]),stroke:'#58b6cc','stroke-width':3.2},'trend-line');
  /* axes */
  mk(g,'line',{x1:c.ax,x2:c.ax,y1:c.top,y2:c.bottom+1.5,stroke:'#3c3c3c','stroke-width':3},'y-axis-line');
  mk(g,'line',{x1:c.ax,x2:c.right,y1:c.bottom,y2:c.bottom,stroke:'#3c3c3c','stroke-width':3},'x-axis-line');
  expressionTicks.forEach(function(v,i){
    mk(g,'line',{x1:X(v),x2:X(v),y1:c.bottom,y2:c.bottom+10,stroke:'#3c3c3c','stroke-width':3},'x-tick');
    if(c.tickY){label(g,X(v)+(i===4?2:0),c.tickY,expressionTickLabels[i],28.5,{anchor:'middle',fill:'#333'},'x-tick-label');}
  });
  c.yt.forEach(function(v,i){
    mk(g,'line',{x1:c.ax-10,x2:c.ax,y1:Y(v),y2:Y(v),stroke:'#3c3c3c','stroke-width':3},'y-tick');
    label(g,c.ytr,Y(v),c.yl[i],28.5,{anchor:'end',fill:'#333'},'y-tick-label');
  });
  label(g,c.ylx,c.yly,c.ytitle,28.5,{anchor:'middle',rot:1,fill:'#333'},'y-axis-title');
  label(g,c.xlx,c.xly1,'Expression of CYP8B1',28.5,{anchor:'middle',fill:'#333'},'x-axis-title');
  const lg=label(g,c.xlx+1,c.xly2,'Log',28.5,{anchor:'middle',fill:'#333'},'x-axis-unit');
  const sub=document.createElementNS(NS,'tspan');
  
  
  sub.setAttribute('font-size','19');
  sub.setAttribute('dy','7');
  sub.textContent='2';
  lg.appendChild(sub);
  const rest=document.createElementNS(NS,'tspan');
  
  
  rest.setAttribute('dy','-7');
  rest.textContent=' (TPM+1)';
  lg.appendChild(rest);
  label(g,c.rx,c.ry,c.rtext,28.5,{fill:'#333'},'correlation-value');
  label(g,c.px,c.py,'P<0.001',28.5,{fill:'#333'},'p-value-text');
}
drawScatter({id:'panelB',letter:'B',lx:124,ly:1107,points:pointsB,trend:trendB,band:.005,x0:271.4,xs:33.96,y0:1470.4,ys:543,yRef:0,ax:262,top:1105,bottom:1486,right:645,tickY:1514,yt:yTicksB,yl:yLabelsB,ytr:245,ytitle:'Enrichment of Th17 cells',ylx:169,yly:1320,xlx:486.7,xly1:1555,xly2:1586,rx:546,ry:1426,rtext:'R=0.350',px:546,py:1456});
drawScatter({id:'panelC',letter:'C',lx:747,ly:1112,points:pointsC,trend:trendC,band:.007,x0:914.5,xs:34.25,y0:1127.5,ys:915,yRef:.6,ax:905,top:1105,bottom:1488,right:1291,tickY:1521,yt:yTicksC,yl:yLabelsC,ytr:888,ytitle:'Enrichment of Neutrophils',ylx:812,yly:1307,xlx:1116.5,xly1:1566,xly2:1596,rx:1195,ry:1429,rtext:'R=0.307',px:1195,py:1459});
drawScatter({id:'panelD',letter:'D',lx:1352,ly:1110,points:pointsD,trend:trendD,band:.008,x0:1489,xs:32.4,y0:1263,ys:1733,yRef:.5,ax:1479,top:1105,bottom:1480,right:1845,tickY:1509,yt:yTicksD,yl:yLabelsD,ytr:1463,ytitle:'Enrichment of Tcm',ylx:1379,yly:1330,xlx:1700,xly1:1567,xly2:1597,rx:1736,ry:1425,rtext:'R=0.238',px:1736,py:1454});
drawScatter({id:'panelE',letter:'E',lx:122,ly:1676,points:pointsE,trend:trendE,band:.01,x0:271.6,xs:34.76,y0:1842,ys:1695,yRef:.5,ax:262,top:1718.5,bottom:2120,right:653.5,tickY:0,yt:yTicksE,yl:yLabelsE,ytr:245,ytitle:'Enrichment of Th2 cells',ylx:165,yly:1937,xlx:450,xly1:2179,xly2:2211,rx:386,ry:2075,rtext:'R=\u22120.312',px:398,py:2098});
drawScatter({id:'panelF',letter:'F',lx:738,ly:1676,points:pointsF,trend:trendF,band:.006,x0:875.4,xs:34.56,y0:1956.6,ys:1534,yRef:.4,ax:866,top:1709,bottom:2110,right:1255,tickY:2139,yt:yTicksF,yl:yLabelsF,ytr:849,ytitle:'Enrichment of TFH',ylx:759,yly:1928,xlx:1080,xly1:2180,xly2:2211,rx:1183,ry:2069,rtext:'R=\u22120.389',px:1194,py:2093});
drawScatter({id:'panelG',letter:'G',lx:1320,ly:1675,points:pointsG,trend:trendG,band:.009,x0:1489,xs:33.9,y0:1901.7,ys:1085,yRef:.5,ax:1479,top:1728,bottom:2109,right:1861,tickY:2137,yt:yTicksG,yl:yLabelsG,ytr:1463,ytitle:'Enrichment of NK CD56 birght cells',ylx:1395,yly:1914,xlx:1664,xly1:2181,xly2:2212,rx:1570,ry:2052,rtext:'R=\u22120.414',px:1582,py:2077});

/* ---------- Panel H ---------- */
(function(){
  const g=document.getElementById('panelH');
  const Y=function(v){return 2853.8-484*v;};
  const X=function(i){return 235+94.2*i;};
  const dodge=18.8, halfW=20;
  const labelNudge=[0,-4,-16,-8,-2,-6,-4,-2,-6,-6,-4,-4,-2,-2,-2,0,-4,-10];
  panelLetter(g,'H',13,2316);
  mk(g,'line',{x1:180,x2:180,y1:2327,y2:2875,stroke:'#222','stroke-width':3.5},'y-axis-line');
  mk(g,'line',{x1:180,x2:1892,y1:2873.6,y2:2873.6,stroke:'#222','stroke-width':3.5},'x-axis-line');
  boxYTicks.forEach(function(v,i){
    mk(g,'line',{x1:165,x2:180,y1:Y(v),y2:Y(v),stroke:'#222','stroke-width':3},'y-tick');
    label(g,146,Y(v),boxYLabels[i],27.5,{anchor:'end',fill:'#333'},'y-tick-label');
  });
  label(g,56,2595,'Enrichment score',27.5,{anchor:'middle',rot:1,fill:'#333'},'y-axis-title');
  function drawBox(cx,b,out,fill,name){
    out.forEach(function(o){
      mk(g,'circle',{cx:cx,cy:Y(o),r:5.2,fill:'#000','fill-opacity':.32},name+'-outlier');
    });
    mk(g,'line',{x1:cx,x2:cx,y1:Y(b[0]),y2:Y(b[4]),stroke:'#111','stroke-width':3.8},name+'-whisker');
    mk(g,'rect',{x:cx-halfW,y:Y(b[3]),width:halfW*2,height:Y(b[1])-Y(b[3]),fill:fill,stroke:'#111','stroke-width':4},name+'-box');
    mk(g,'line',{x1:cx-halfW,x2:cx+halfW,y1:Y(b[2]),y2:Y(b[2]),stroke:'#111','stroke-width':7},name+'-median');
  }
  boxCells.forEach(function(c,i){
    const key=c.split('|').join('-').toLowerCase().replace(/ /g,'-');
    drawBox(X(i)-dodge,boxLow[i],outLow[i],'#4DBBD5',key+'-low');
    drawBox(X(i)+dodge,boxHigh[i],outHigh[i],'#E64B35',key+'-high');
    mk(g,'line',{x1:X(i),x2:X(i),y1:2873.6,y2:2890,stroke:'#222','stroke-width':3.5},'x-tick');
    const lines=c.split('|');
    lines.forEach(function(t,k){
      const lx=X(i)+labelNudge[i]+(lines.length>1?(k===0?-17:23):2);
      label(g,lx,2910.5,t,37,{anchor:'end',rot:1,fill:'#222'},'x-tick-label-'+key);
    });
    if(bracketTop[i]!==null){
      const by=Y(bracketTop[i]);
      const x1=X(i)-dodge,x2=X(i)+dodge;
      mk(g,'path',{d:'M'+x1+' '+(by+11)+'V'+by+'H'+x2+'V'+(by+11),fill:'none',stroke:'#111','stroke-width':3.6},'significance-bracket-'+key);
      label(g,X(i),by+7,boxSig[i],32,{anchor:'middle',base:'alphabetic',fill:'#222'},'significance-stars-'+key);
    }
  });
  /* legend */
  label(g,1915,2555,'CYP8B1',27.5,{fill:'#222'},'legend-title');
  const keys=[['Low','#4DBBD5',2587,2611],['High','#E64B35',2630,2653]];
  keys.forEach(function(k){
    const mid=(k[2]+k[3])/2;
    mk(g,'line',{x1:1932,x2:1932,y1:k[2]-6,y2:k[3]+6,stroke:'#111','stroke-width':3},'legend-key-whisker-'+k[0].toLowerCase());
    mk(g,'rect',{x:1915,y:k[2],width:34,height:k[3]-k[2],fill:k[1],stroke:'#111','stroke-width':3.5},'legend-key-'+k[0].toLowerCase());
    mk(g,'line',{x1:1915,x2:1949,y1:mid,y2:mid,stroke:'#111','stroke-width':4.5},'legend-key-median-'+k[0].toLowerCase());
    label(g,1963,mid+2,k[0],27.5,{fill:'#222'},'legend-label-'+k[0].toLowerCase());
  });
})();
</script>
</body>
</html>
